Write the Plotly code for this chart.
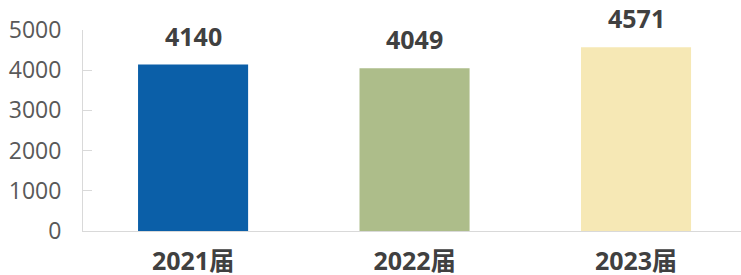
import plotly.graph_objects as go

categories = ["2021届", "2022届", "2023届"]
values = [4140, 4049, 4571]
colors = ["#0b5fa8", "#adbd8a", "#f6e8b5"]
y_ticks = [0, 1000, 2000, 3000, 4000, 5000]

FONT = "Open Sans, Noto Sans CJK SC, sans-serif"

fig = go.Figure()
fig.add_trace(go.Bar(
    x=[0, 1, 2], y=values, marker=dict(color=colors, line=dict(width=0)),
    width=0.497, hoverinfo="skip",
))

for i, v in enumerate(values):
    fig.add_annotation(x=i, y=v, text=f"<b>{v}</b>", showarrow=False,
                       yanchor="bottom", yshift=10,
                       font=dict(family=FONT, size=25, color="#404040"))

fig.update_layout(
    width=741, height=275,
    margin=dict(l=83, r=0, t=30, b=44, autoexpand=False),
    paper_bgcolor="white", plot_bgcolor="white",
    showlegend=False,
    font=dict(family=FONT),
)
fig.update_xaxes(
    range=[-0.497, 2.474], tickvals=[0, 1, 2],
    ticktext=[f"<b>{c}</b>" for c in categories],
    tickfont=dict(family=FONT, size=25, color="#404040"),
    showline=True, linecolor="#d9d9d9", linewidth=1,
    ticks="outside", ticklen=8, tickcolor="rgba(0,0,0,0)",
    showgrid=False, zeroline=False,
)
fig.update_yaxes(
    range=[0, 5000], tickvals=y_ticks,
    tickfont=dict(family=FONT, size=23, color="#595959"),
    showline=True, linecolor="#d9d9d9", linewidth=1,
    ticks="inside", ticklen=9, tickcolor="#d9d9d9",
    ticklabelstandoff=16,
    showgrid=False, zeroline=False,
)

fig.write_html(
    "out.html",
    config={"displayModeBar": False, "staticPlot": True},
    post_script="document.body.style.margin='0';document.body.style.overflow='hidden';",
)
